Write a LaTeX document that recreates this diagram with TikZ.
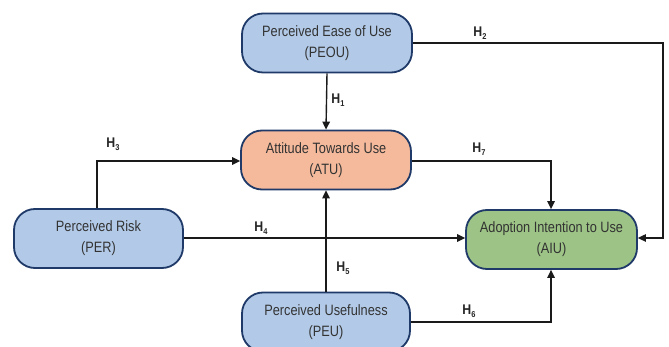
\documentclass[tikz,border=0pt]{standalone}
\usepackage{fontspec}
\setmainfont{Liberation Sans}
\newfontfamily\boxfont[FakeStretch=0.85]{Liberation Sans}
\newfontfamily\labfont[FakeStretch=0.88]{Liberation Sans}
\usetikzlibrary{arrows.meta,calc}
\definecolor{bfill}{HTML}{B2CAE8}
\definecolor{ofill}{HTML}{F5BA9C}
\definecolor{gfill}{HTML}{9DC486}
\definecolor{bord}{HTML}{1F3A68}
\definecolor{lin}{HTML}{1A1A1A}
\newcommand{\Hyp}[1]{{\labfont\bfseries H\raisebox{-0.35ex}{\fontsize{8.5}{8.5}\selectfont #1}}}
\begin{document}
\begin{tikzpicture}[x=1pt,y=-1pt,
  cbox/.style={draw=bord,line width=1.8pt,rounded corners=21pt,minimum width=170pt,minimum height=59pt,align=center,inner sep=0pt,font=\boxfont\fontsize{15}{21}\selectfont,text=black!80},
  conn/.style={draw=lin,line width=1.4pt,-{Triangle[length=8pt,width=7.5pt]}},
  hlab/.style={font=\fontsize{14}{14}\selectfont,text=black!85,inner sep=0pt}]
\useasboundingbox (0,0) rectangle (669,347);
\node[cbox,fill=bfill] (PEOU) at (327,43) {Perceived Ease of Use\\(PEOU)};
\node[cbox,fill=ofill] (ATU) at (326,160) {Attitude Towards Use\\(ATU)};
\node[cbox,fill=bfill,minimum width=169pt] (PER) at (98.5,238.5) {Perceived Risk\\(PER)};
\node[cbox,fill=gfill,minimum width=171pt] (AIU) at (551.5,239.5) {Adoption Intention to Use\\(AIU)};
\node[cbox,fill=bfill,minimum width=168pt] (PEU) at (326,322) {Perceived Usefulness\\(PEU)};
\coordinate (c2) at (663,43);
\coordinate (c3) at (97,161);
\coordinate (c7) at (551,161);
\coordinate (c6) at (551,322);
% H1
\draw[conn] (PEOU.south) -- (ATU.north);
% H2
\draw[conn] (PEOU.east) -- (c2) -- (c2 |- 0,238) -- (AIU.east |- 0,238);
% H3
\draw[conn] (c3 |- PER.north) -- (c3) -- (ATU.west |- c3);
% H4
\draw[conn] (PER.east |- 0,238) -- (AIU.west |- 0,238);
% H5
\draw[conn] (PEU.north) -- (ATU.south);
% H6
\draw[conn] (PEU.east) -- (c6) -- (c6 |- AIU.south);
% H7
\draw[conn] (ATU.east |- c7) -- (c7) -- (c7 |- AIU.north);
\node[hlab] (h1) at (338,100) {\Hyp{1}};
\node[hlab] (h2) at (480,33) {\Hyp{2}};
\node[hlab] (h3) at (113,144) {\Hyp{3}};
\node[hlab] (h4) at (261,228) {\Hyp{4}};
\node[hlab] (h5) at (343,268) {\Hyp{5}};
\node[hlab] (h6) at (469,311) {\Hyp{6}};
\node[hlab] (h7) at (479,149) {\Hyp{7}};
\end{tikzpicture}
\end{document}
